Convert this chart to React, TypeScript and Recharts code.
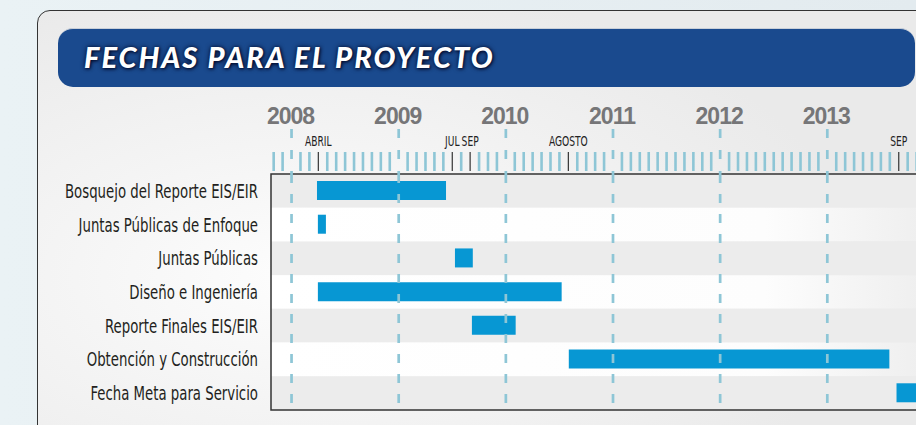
import React from 'react';
import { BarChart, Bar, XAxis, YAxis, ReferenceArea, ReferenceLine } from 'recharts';

// months are counted from January 2008 (= 0)
const tasks = [
  'Bosquejo del Reporte EIS/EIR',
  'Juntas Públicas de Enfoque',
  'Juntas Públicas',
  'Diseño e Ingeniería',
  'Reporte Finales EIS/EIR',
  'Obtención y Construcción',
  'Fecha Meta para Servicio',
];
const startMonth = [2.85, 2.95, 18.3, 2.95, 20.2, 31.05, 67.75];
const endMonth = [17.3, 3.85, 20.3, 30.25, 25.1, 66.95, 70.5];

const years = [2008, 2009, 2010, 2011, 2012, 2013];
const markedMonths = [3, 18, 20, 31, 68];
const markedLabels = ['ABRIL', 'JUL', 'SEP', 'AGOSTO', 'SEP'];

const rows = tasks.map((task, i) => ({ task, range: [startMonth[i], endMonth[i]] }));
const monthTicks: number[] = [];
for (let m = -2; m <= 71; m++) monthTicks.push(m);

const X_MIN = -2.3;
const X_MAX = 71.5;

const NARROW = '"DejaVu Sans Condensed", "DejaVu Sans", sans-serif';
const BLUE_TICK = '#8ec6d6';

const MonthTick = (props: any) => {
  const { x, y, payload } = props;
  const m = payload.value;
  if (m % 12 === 0) {
    return (
      <g>
        <text x={x - 1} y={y - 50.5} textAnchor="middle" fill="#767678" fontFamily='"Liberation Sans", Arial, sans-serif'
          fontWeight="bold" fontSize={23} letterSpacing={-1}>
          {2008 + m / 12}
        </text>
        <line x1={x} x2={x} y1={y - 45} y2={y} stroke={BLUE_TICK} strokeWidth={2.7} strokeDasharray="9 12" />
      </g>
    );
  }
  const k = markedMonths.indexOf(m);
  if (k >= 0) {
    return (
      <g>
        <g transform={`translate(${x},${y - 28.5}) scale(0.78,1.05)`}>
          <text x={0} y={0} textAnchor="middle" fill="#222" fontFamily={NARROW} fontSize={13}>
            {markedLabels[k]}
          </text>
        </g>
        <line x1={x} x2={x} y1={y - 22} y2={y - 3} stroke="#333" strokeWidth={1.2} />
      </g>
    );
  }
  return <rect x={x - 1.3} y={y - 22} width={2.6} height={19} fill={BLUE_TICK} />;
};

const TaskTick = (props: any) => {
  const { x, y, payload } = props;
  return (
    <g transform={`translate(${x},${y}) scale(0.87,1.12)`}>
      <text x={0} y={0} dy="0.37em" textAnchor="end" fill="#231f20" fontFamily={NARROW} fontSize={17}>
        {payload.value}
      </text>
    </g>
  );
};

export default function App() {
  return (
    <div style={{ position: 'absolute', left: 0, top: 0, width: 916, height: 425, overflow: 'hidden',
      background: 'linear-gradient(to right, #eaf2f5, #e3ebef)' }}>
      <div style={{ position: 'absolute', left: 37, top: 10, width: 940, height: 430, boxSizing: 'border-box',
        border: '1px solid #333', borderRadius: 13,
        background: 'radial-gradient(ellipse 60% 70% at 28% 62%, #fdfdfd 0%, #f4f4f4 45%, #eaeaea 100%)' }} />
      <div style={{ position: 'absolute', left: 58, top: 28, width: 857, height: 59, boxSizing: 'border-box',
        borderRadius: 15, background: '#1a4a8e', borderTop: '1px solid #c9cfd8' }} />
      <div style={{ position: 'absolute', left: 84, top: 43, lineHeight: '28px', fontFamily: 'Lato, "Open Sans", sans-serif',
        fontSize: 29, fontWeight: 900, fontStyle: 'italic', color: '#fff', letterSpacing: 2,
        textShadow: '0 0 5px rgba(0,10,40,0.95), 1px 1px 3px rgba(0,0,30,0.8)', whiteSpace: 'nowrap' }}>
        FECHAS PARA EL PROYECTO
      </div>
      <div style={{ position: 'absolute', left: 0, top: 0 }}>
        <BarChart width={930} height={425} data={rows} layout="vertical"
          margin={{ top: 0, right: 0, bottom: 15, left: 0 }} barSize={19}>
          <defs>
            <linearGradient id="rowWhite" x1="0" y1="0" x2="1" y2="0">
              <stop offset="0%" stopColor="#ffffff" />
              <stop offset="75%" stopColor="#fdfdfd" />
              <stop offset="100%" stopColor="#eeeeee" />
            </linearGradient>
          </defs>
          <XAxis type="number" orientation="top" height={174} domain={[X_MIN, X_MAX]} allowDataOverflow
            ticks={monthTicks} interval={0} tick={<MonthTick />} axisLine={false} tickLine={false}
            tickSize={0} tickMargin={0} />
          <YAxis type="category" dataKey="task" width={271} axisLine={false} tickLine={false}
            tickSize={0} tickMargin={13} interval={0} tick={<TaskTick />} />
          {tasks.map((t, i) => (
            <ReferenceArea key={t} y1={t} y2={t} fill={i % 2 === 0 ? '#ececec' : 'url(#rowWhite)'} fillOpacity={1} stroke="none" />
          ))}
          {years.map((yr) => (
            <ReferenceLine key={yr} x={(yr - 2008) * 12} stroke={BLUE_TICK} strokeWidth={2.7} strokeDasharray="9 11" />
          ))}
          <Bar dataKey="range" fill="#0797d3" isAnimationActive={false} />
          <ReferenceArea x1={X_MIN} x2={X_MAX} y1={tasks[0]} y2={tasks[tasks.length - 1]}
            fill="none" fillOpacity={0} stroke="#333" strokeWidth={1.5} />
        </BarChart>
      </div>
    </div>
  );
}
